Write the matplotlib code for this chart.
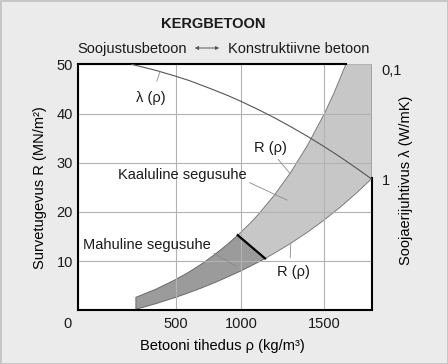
import numpy as np
import matplotlib
matplotlib.use('Agg')
import matplotlib.pyplot as plt
from matplotlib.transforms import ScaledTranslation

plt.rcParams['font.family'] = ['Liberation Sans', 'DejaVu Sans']
plt.rcParams['font.size'] = 10.5
plt.rcParams['text.color'] = '#1a1a1a'

# density axis is drawn uneven in the original (hand drawn scale)
rho_knots = [0, 500, 1000, 1500, 1790]
pos_knots = [0, 98, 163.3, 246.3, 294.3]

# R(rho) band, upper and lower edge
upper_rho = [297, 400, 500, 600, 700, 800, 900, 975, 1050, 1100, 1200, 1300, 1400, 1500, 1560, 1632]
upper_R = [2.64, 4.31, 6.25, 7.75, 9.44, 11.36, 13.49, 15.27, 17.52, 19.32, 23.37, 28.06, 33.51, 39.83, 44.13, 50.0]
lower_rho = [297, 400, 500, 600, 700, 800, 900, 1000, 1100, 1145, 1200, 1300, 1400, 1500, 1600, 1700, 1790]
lower_R = [0.2, 1.37, 2.64, 3.57, 4.57, 5.65, 6.81, 8.02, 9.72, 10.54, 11.59, 13.63, 15.87, 18.33, 21.02, 23.96, 26.83]
split_up = 7   # index where mahuline -> kaaluline on upper edge
split_lo = 9   # same on lower edge

# lambda(rho), right axis
lam_rho = [275, 400, 500, 600, 750, 900, 1000, 1100, 1200, 1300, 1400, 1500, 1600, 1700, 1790]
lam = [0.100, 0.113, 0.127, 0.138, 0.160, 0.187, 0.210, 0.246, 0.291, 0.349, 0.423, 0.519, 0.643, 0.808, 1.0]

x_ticks = [0, 500, 1000, 1500]
y_ticks = [10, 20, 30, 40, 50]
lam_ticks = [0.1, 1]
lam_labels = ['0,1', '1']


def fwd(x):
    return np.interp(x, rho_knots, pos_knots)


def inv(p):
    return np.interp(p, pos_knots, rho_knots)


fig = plt.figure(figsize=(4.48, 3.64), dpi=100)
fig.patch.set_facecolor('#ebebeb')
fig.patch.set_edgecolor('#c6c6c6')
fig.patch.set_linewidth(2)

ax = fig.add_axes([0.1734, 0.1475, 0.657, 0.6758])
ax.set_xscale('function', functions=(fwd, inv))
ax.set_xlim(0, 1790)
ax.set_ylim(0, 50)

# dark part (Mahuline segusuhe)
dark_x = upper_rho[:split_up + 1] + lower_rho[:split_lo + 1][::-1]
dark_y = upper_R[:split_up + 1] + lower_R[:split_lo + 1][::-1]
ax.fill(dark_x, dark_y, facecolor='#9b9b9b', edgecolor='#6a6a6a', lw=0.7, zorder=1)

# light part (Kaaluline segusuhe), filled up to the top right corner
light_x = upper_rho[split_up:] + [lower_rho[-1]] + lower_rho[split_lo:][::-1]
light_y = upper_R[split_up:] + [upper_R[-1]] + lower_R[split_lo:][::-1]
ax.fill(light_x, light_y, facecolor='#c7c7c7', edgecolor='#7c7c7c', lw=0.7, zorder=1)

ax.plot([upper_rho[split_up], lower_rho[split_lo]], [upper_R[split_up], lower_R[split_lo]],
        color='black', lw=1.6, zorder=3)

ax.set_xticks(x_ticks)
ax.set_xticklabels([str(v) for v in x_ticks])
ax.set_yticks(y_ticks)
ax.grid(True, color='#b2b2b2', lw=0.8)
ax.tick_params(length=0, labelsize=10.5, colors='#1a1a1a')
ax.tick_params(axis='x', pad=5)
ax.tick_params(axis='y', pad=3.5)

lbl0 = ax.get_xticklabels()[0]
lbl0.set_transform(lbl0.get_transform() + ScaledTranslation(-0.097, 0, fig.dpi_scale_trans))

for s in ax.spines.values():
    s.set_linewidth(1.5)
    s.set_color('black')
ax.spines['top'].set_bounds(0, upper_rho[-1])
ax.spines['right'].set_bounds(0, lower_R[-1])

ax.set_xlabel('Betooni tihedus ρ (kg/m³)')
ax.xaxis.set_label_coords(0.49, -0.118)
ax.set_ylabel('Survetugevus R (MN/m²)')
ax.yaxis.set_label_coords(-0.104, 0.5)

# thermal conductivity on log axis, 0.1 on top
ax2 = ax.twinx()
ax2.set_yscale('log')
ax2.set_ylim(13.8, 0.1)
ax2.plot(lam_rho, lam, color='#555555', lw=0.8)
ax2.set_yticks(lam_ticks)
ax2.set_yticklabels(lam_labels)
ax2.yaxis.set_minor_locator(matplotlib.ticker.NullLocator())
ax2.tick_params(length=0, labelsize=10.5, pad=7, colors='#1a1a1a')
ax2.get_yticklabels()[0].set_va('top')
for s in ax2.spines.values():
    s.set_visible(False)
ax2.set_ylabel('Soojaerijuhtivus λ (W/mK)')
ax2.yaxis.set_label_coords(1.09, 0.53)

lead = dict(arrowstyle='-', color='#8a8a8a', lw=0.6, shrinkA=0, shrinkB=0)

ax.annotate('Kaaluline segusuhe', xy=(1277, 22.4), xytext=(206, 26.6), va='baseline', ha='left',
            arrowprops=dict(lead, relpos=(0, 0), connectionstyle='angle,angleA=0,angleB=-25,rad=0'))
ax.annotate('Mahuline segusuhe', xy=(967, 8.9), xytext=(29, 12.4), va='baseline', ha='left',
            arrowprops=dict(lead, relpos=(0, 0), connectionstyle='angle,angleA=0,angleB=-30,rad=0'))
ax.annotate('R (ρ)', xy=(1295, np.interp(1295, upper_rho, upper_R)), xytext=(1078, 32.2),
            va='baseline', ha='left', arrowprops=dict(lead, relpos=(0.62, 0), shrinkA=1.5))
ax.annotate('R (ρ)', xy=(1300, np.interp(1300, lower_rho, lower_R)), xytext=(1215, 7.0),
            va='baseline', ha='left', arrowprops=dict(lead, relpos=(0.4, 1), shrinkA=3))
ax2.annotate('λ (ρ)', xy=(420, np.interp(420, lam_rho, lam)), xytext=(297, 0.211),
             va='baseline', ha='left', arrowprops=dict(lead, relpos=(0.6, 1), shrinkA=5))

fig.text(0.4766, 0.9222, 'KERGBETOON', ha='center', va='baseline', fontweight='bold')
fig.text(0.4174, 0.8544, 'Soojustusbetoon', ha='right', va='baseline')
fig.text(0.5089, 0.8544, 'Konstruktiivne betoon', ha='left', va='baseline')
fig.add_artist(matplotlib.patches.FancyArrowPatch((192 / 448, 1 - 48 / 364), (222 / 448, 1 - 48 / 364),
                                                  transform=fig.transFigure, arrowstyle='<|-|>',
                                                  mutation_scale=5, color='#555555', lw=0.7))

fig.savefig('out.png', dpi=100, facecolor=fig.get_facecolor(), edgecolor=fig.get_edgecolor())
